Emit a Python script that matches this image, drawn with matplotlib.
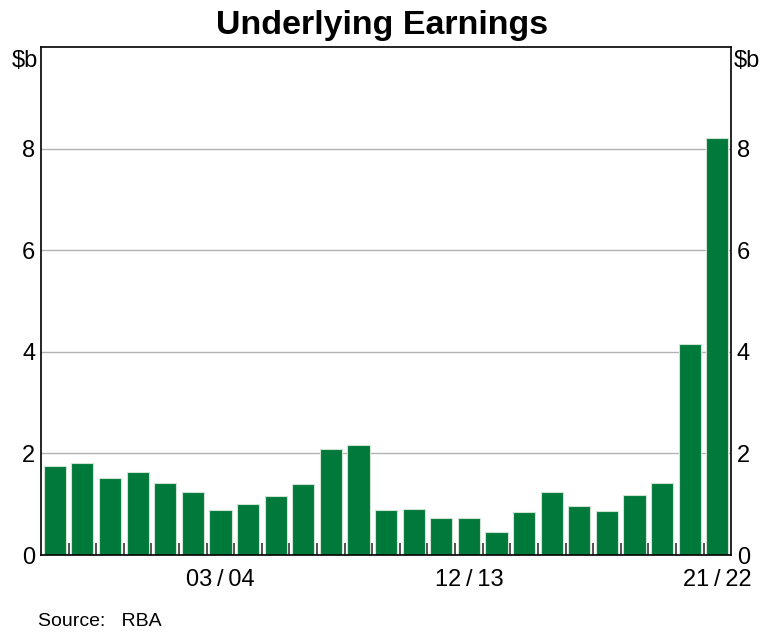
import numpy as np
import matplotlib.pyplot as plt

plt.rcParams['font.family'] = ['Liberation Sans', 'DejaVu Sans']

# financial years 1997/98 .. 2021/22
years = ['%02d/%02d' % (y % 100, (y + 1) % 100) for y in range(1997, 2022)]
earnings = [1.76, 1.82, 1.52, 1.64, 1.41, 1.25, 0.89, 1.00, 1.16, 1.39,
            2.08, 2.17, 0.88, 0.91, 0.72, 0.73, 0.45, 0.85, 1.24, 0.97,
            0.86, 1.18, 1.42, 4.16, 8.21]
shown_labels = ['03/04', '12/13', '21/22']

green = '#00793A'

fig = plt.figure(figsize=(7.64, 6.32), dpi=100)
ax = fig.add_axes([0.0537, 0.1218, 0.9033, 0.8038])

x = np.arange(len(earnings))
ax.bar(x, earnings, width=0.8, color=green, edgecolor='#cfe3d3', linewidth=0.8, zorder=3)

ax.set_xlim(-0.5, len(earnings) - 0.5)
ax.set_ylim(0, 10)
ax.set_yticks([0, 2, 4, 6, 8])
ax.yaxis.grid(True, color='#b3b3b3', linewidth=1.0, zorder=0)
ax.tick_params(axis='y', length=0, labelsize=17, pad=4,
               labelleft=True, labelright=True)

# year labels without ticks, small ticks between bars
ax.set_xticks([years.index(l) for l in shown_labels])
ax.set_xticklabels([l.replace('/', '\u2009/\u2009') for l in shown_labels])
ax.tick_params(axis='x', which='major', length=0, labelsize=17, pad=10)
ax.set_xticks(np.arange(0.5, len(earnings) - 1, 1.0), minor=True)
ax.tick_params(axis='x', which='minor', direction='in', length=9, width=1.2, color='#333333')

for s in ax.spines.values():
    s.set_linewidth(1.2)
    s.set_color('black')
    s.set_zorder(4)

ax.text(-0.004, 0.995, '$b', transform=ax.transAxes, ha='right', va='top', fontsize=17)
ax.text(1.004, 0.995, '$b', transform=ax.transAxes, ha='left', va='top', fontsize=17)

fig.text(0.5, 0.96, 'Underlying Earnings', ha='center', va='center',
         fontsize=24.5, fontweight='bold')
fig.text(0.05, 0.003, 'Source:   RBA', ha='left', va='bottom', fontsize=14)

fig.savefig('out.png', dpi=100)
